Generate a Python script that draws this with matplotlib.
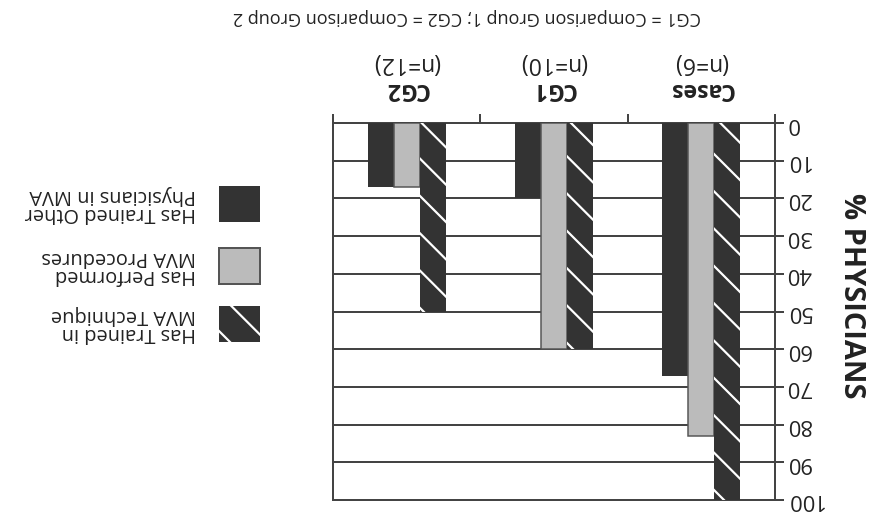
import matplotlib
matplotlib.use("Agg")
import matplotlib.pyplot as plt
from matplotlib.patches import Rectangle
import numpy as np

# the reference is printed upside down, so everything is drawn rotated by 180 degrees

groups = ["Cases", "CG1", "CG2"]
group_n = ["(n=6)", "(n=10)", "(n=12)"]
trained_technique = [100, 60, 50]
performed_mva = [83, 60, 17]
trained_others = [67, 20, 17]
yticks = [0, 10, 20, 30, 40, 50, 60, 70, 80, 90, 100]
legend_labels = ["Has Trained Other\nPhysicians in MVA",
                 "Has Performed\nMVA Procedures",
                 "Has Trained in\nMVA Technique"]
caption = "CG1 = Comparison Group 1; CG2 = Comparison Group 2"

DPI = 112   # chosen so the hatch spacing matches
W, H = 876, 522


def px(v):
    # pixels -> points
    return v * 72.0 / DPI


plt.rcParams['font.family'] = ['Open Sans', 'DejaVu Sans']
plt.rcParams['hatch.linewidth'] = px(2.2)

DARK = "#333333"
GRAY = "#bbbbbb"
LINE = "#444444"
TXT = "#222222"

fig = plt.figure(figsize=(W / DPI, H / DPI), dpi=DPI)
fig.patch.set_facecolor("white")

# plot box in pixel coords of the reference (top-left origin)
x0, x1, y0, y1 = 333, 775, 123, 500
ax = fig.add_axes([x0 / W, 1 - y1 / H, (x1 - x0) / W, (y1 - y0) / H])

x = np.arange(len(groups))
w = 0.177
ax.bar(x + w, trained_others, w, color=DARK, linewidth=0, zorder=3)
ax.bar(x, performed_mva, w, color=GRAY, edgecolor="#555555", linewidth=px(1.5), zorder=3)
ax.bar(x - w, trained_technique, w, color=DARK, edgecolor="white", linewidth=0,
       hatch="\\", zorder=3)

ax.set_xlim(2.5, -0.5)
ax.set_ylim(100, 0)

for s in ax.spines.values():
    s.set_color(LINE)
    s.set_linewidth(px(2))

ax.yaxis.tick_right()
ax.set_yticks(yticks)
ax.set_yticklabels([str(t) for t in yticks], rotation=180, fontsize=px(22), va="center")
ax.tick_params(axis="y", direction="out", length=px(9), width=px(2), color=LINE,
               pad=px(2), labelcolor=TXT)
ax.yaxis.grid(True, color=LINE, linewidth=px(2))
ax.set_axisbelow(True)

ax.xaxis.tick_top()
ax.set_xticks([-0.5, 0.5, 1.5, 2.5])
ax.set_xticklabels([])
ax.tick_params(axis="x", direction="out", length=px(9), width=px(2), color=LINE)

for i, (g, n) in enumerate(zip(groups, group_n)):
    ax.annotate(g, (i, 1), xycoords=("data", "axes fraction"),
                xytext=(0, px(34)), textcoords="offset points",
                ha="center", va="center", rotation=180, fontsize=px(23),
                fontweight="bold", color=TXT)
    ax.annotate(n, (i, 1), xycoords=("data", "axes fraction"),
                xytext=(0, px(60)), textcoords="offset points",
                ha="center", va="center", rotation=180, fontsize=px(23),
                color=TXT)


def fx(v):
    return v / W


def fy(v):
    return 1 - v / H


fig.text(fx(852), fy(296), "% PHYSICIANS", rotation=270, ha="center", va="center",
         fontsize=px(29), fontweight="bold", color=TXT)

fig.text(fx(467), fy(17), caption, rotation=180, ha="center", va="center",
         fontsize=px(18), color=TXT)

# legend, drawn by hand
leg_y = [204, 266, 324]
styles = [dict(facecolor=DARK, linewidth=0),
          dict(facecolor=GRAY, edgecolor="#555555", linewidth=px(2)),
          dict(facecolor=DARK, edgecolor="white", linewidth=0, hatch="\\")]
for yc, lab, st in zip(leg_y, legend_labels, styles):
    fig.add_artist(Rectangle((fx(219), fy(yc + 18)), 41 / W, 36 / H,
                             transform=fig.transFigure, **st))
    fig.text(fx(196), fy(yc), lab, rotation=180, ha="right", va="center",
             multialignment="left", fontsize=px(20), color=TXT,
             linespacing=0.9)

fig.savefig("out.png", dpi=DPI)
